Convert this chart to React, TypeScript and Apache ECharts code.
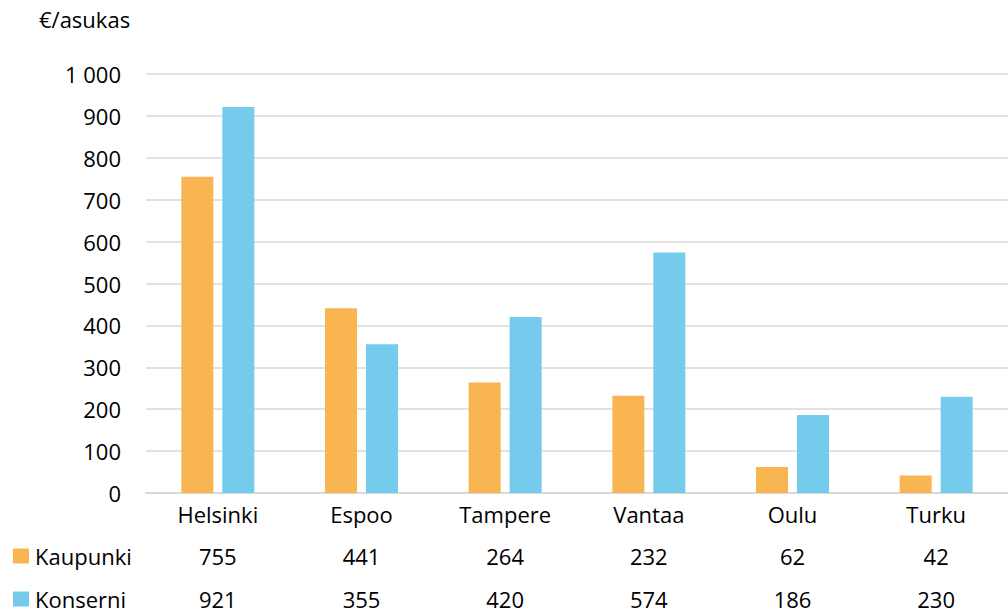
import React, { useEffect, useRef } from "react";
import * as echarts from "echarts";

const categories = ["Helsinki", "Espoo", "Tampere", "Vantaa", "Oulu", "Turku"];
const kaupunki = [755, 441, 264, 232, 62, 42];
const konserni = [921, 355, 420, 574, 186, 230];
const seriesNames = ["Kaupunki", "Konserni"];
const unitLabel = "€/asukas";

const FONT = "Open Sans";
const FS = 22;
const ORANGE = "#F8B551";
const BLUE = "#74CBEC";

export default function App() {
  const ref = useRef<HTMLDivElement>(null);
  useEffect(() => {
    if (!ref.current) return;
    const chart = echarts.init(ref.current, undefined, { renderer: "svg" });
    const tableAxis = (vals: number[], offset: number) => ({
      type: "category",
      data: vals.map(String),
      position: "bottom",
      offset,
      gridIndex: 0,
      axisLine: { show: false },
      axisTick: { show: false },
      axisLabel: { color: "#000", fontFamily: FONT, fontSize: FS, lineHeight: 22, margin: 10 },
      splitLine: { show: false },
    });
    const legendItem = (name: string, top: number) => ({
      data: [name],
      orient: "horizontal",
      left: 8,
      top,
      padding: [0, 5, 0, 5],
      icon: "rect",
      itemWidth: 16,
      itemHeight: 15,
      itemGap: 0,
      textStyle: { color: "#000", fontFamily: FONT, fontSize: FS, lineHeight: 22, padding: [0, 0, 0, 1] },
    });
    chart.setOption({
      animation: false,
      backgroundColor: "#fff",
      textStyle: { fontFamily: FONT },
      grid: { left: 146, right: 0, top: 74, bottom: 119, containLabel: false, outerBoundsMode: "none" },
      legend: [legendItem(seriesNames[0], 545), legendItem(seriesNames[1], 588)],
      graphic: [
        {
          type: "text",
          left: 39,
          top: 8,
          style: { text: unitLabel, fontFamily: FONT, fontSize: FS, fill: "#000" },
        },
      ],
      xAxis: [
        {
          type: "category",
          data: categories,
          axisLine: { show: true, lineStyle: { color: "#d9d9d9", width: 2 } },
          axisTick: { show: false },
          axisLabel: { color: "#000", fontFamily: FONT, fontSize: FS, margin: 10 },
        },
        tableAxis(kaupunki, 42),
        tableAxis(konserni, 85),
      ],
      yAxis: {
        type: "value",
        min: 0,
        max: 1000,
        interval: 100,
        axisLine: { show: false },
        axisTick: { show: false },
        splitLine: { lineStyle: { color: "#d9d9d9", width: 1.5 } },
        axisLabel: {
          color: "#000",
          fontFamily: FONT,
          fontSize: FS,
          margin: 25,
          formatter: (v: number) => String(v).replace(/\B(?=(\d{3})+(?!\d))/g, " "),
        },
      },
      series: [
        {
          name: seriesNames[0],
          type: "bar",
          data: kaupunki,
          barWidth: 32,
          barGap: "28%",
          itemStyle: { color: ORANGE },
        },
        {
          name: seriesNames[1],
          type: "bar",
          data: konserni,
          barWidth: 32,
          barGap: "28%",
          itemStyle: { color: BLUE },
        },
      ],
    });
    return () => chart.dispose();
  }, []);
  return <div ref={ref} style={{ width: 1008, height: 612, position: "fixed", left: 0, top: 0 }} />;
}
